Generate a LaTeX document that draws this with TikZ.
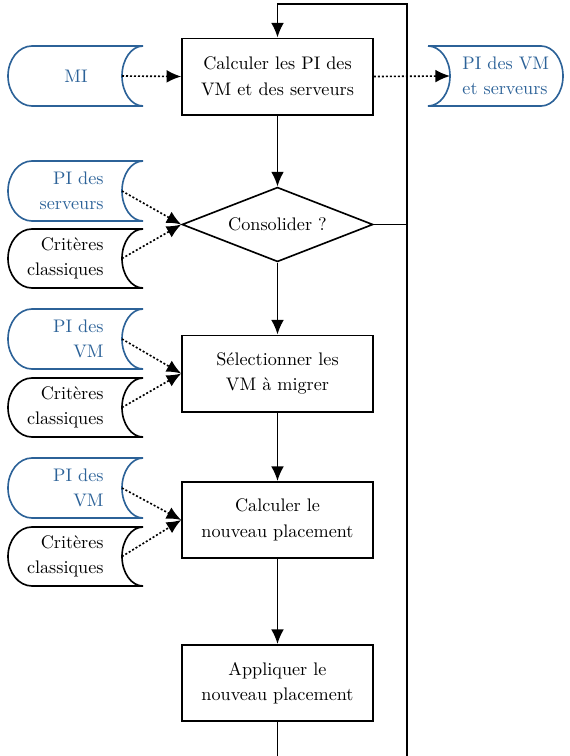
\documentclass[tikz,border=0pt]{standalone}
\usepackage{fontspec}
\usetikzlibrary{shapes.geometric, arrows.meta}
\definecolor{bleupi}{RGB}{44,98,152}
\tikzset{
  texte/.style={font=\fontsize{10}{14}\selectfont, align=center},
  bord/.style={line width=0.9pt},
  etape/.style={texte, bord, draw, minimum width=105pt, minimum height=42pt, inner sep=0pt},
  test/.style={texte, bord, draw, diamond, aspect=2.55, minimum width=105pt, minimum height=41pt, inner sep=0pt},
  lien/.style={bord, -{Latex[length=8pt,width=7pt]}},
  lienpoint/.style={bord, dash pattern=on 1.1pt off 1.1pt, -{Latex[length=8pt,width=7pt]}},
}
% donnee stockee, bord arrondi a gauche et creux a droite
\newcommand{\stockg}[7]{%
  \pgfmathsetmacro{\ymil}{-(#3+#4)/2}
  \pgfmathsetmacro{\demih}{(#4-#3)/2}
  \draw[bord, #2] (143,-#3) -- (32,-#3)
    arc[start angle=90, end angle=270, x radius=24, y radius=\demih]
    -- (143,-#4) arc[start angle=270, end angle=90, x radius=21, y radius=\demih];
  \coordinate (#1) at (122,\ymil);
  \node[texte, text=#2, #6] (#1-texte) at (#5,\ymil) {#7};
}
\begin{document}
\begin{tikzpicture}[x=0.55pt, y=0.55pt]
    \useasboundingbox (0,0) rectangle (570,-756);
    % etapes
    \node[etape] (calc) at (277.5,-76.5) {Calculer les PI des\\VM et des serveurs};
    \node[test] (cons) at (277.5,-224.5) {Consolider~?};
    \node[etape] (selec) at (277.5,-373.5) {Sélectionner les\\VM à migrer};
    \node[etape] (place) at (277.5,-520) {Calculer le\\nouveau placement};
    \node[etape] (appli) at (277.5,-683) {Appliquer le\\nouveau placement};
    \coordinate (coin) at (407,-4);
    % donnees en entree
    \stockg{mi}{bleupi}{46}{106}{76}{anchor=center}{MI}
    \stockg{piserv}{bleupi}{161}{221}{110}{anchor=east, align=right}{PI des\\serveurs}
    \stockg{crit1}{black}{229}{288}{110}{anchor=east, align=right}{Critères\\classiques}
    \stockg{pivm1}{bleupi}{309}{369}{110}{anchor=east, align=right}{PI des\\VM}
    \stockg{crit2}{black}{378}{437}{110}{anchor=east, align=right}{Critères\\classiques}
    \stockg{pivm2}{bleupi}{458}{518}{110}{anchor=east, align=right}{PI des\\VM}
    \stockg{crit3}{black}{527}{586}{110}{anchor=east, align=right}{Critères\\classiques}
    % donnee en sortie
    \draw[bord, bleupi] (428,-46) -- (541,-46)
        arc[start angle=90, end angle=-90, x radius=22, y radius=30]
        -- (428,-106) arc[start angle=-90, end angle=90, x radius=22, y radius=30];
    \coordinate (pisortie) at (450,-76);
    \node[texte, text=bleupi, anchor=west, align=left] (pisortie-texte) at (456,-76) {PI des VM\\et serveurs};
    % enchainement
    \draw[lien] (calc) -- (cons);
    \draw[lien] (cons) -- (selec);
    \draw[lien] (selec) -- (place);
    \draw[lien] (place) -- (appli);
    \draw[lien] (appli.south) -- ++(0,-70) -| (coin) -| (calc.north);
    \draw[bord] (cons.east) -- (cons.east -| coin);
    % flux de donnees
    \draw[lienpoint] (mi) -- (calc.west);
    \draw[lienpoint] (calc.east) -- (pisortie);
    \draw[lienpoint] (piserv) -- (cons.west);
    \draw[lienpoint] (crit1) -- (cons.west);
    \draw[lienpoint] (pivm1) -- (selec.west);
    \draw[lienpoint] (crit2) -- (selec.west);
    \draw[lienpoint] (pivm2) -- (place.west);
    \draw[lienpoint] (crit3) -- (place.west);
\end{tikzpicture}
\end{document}
